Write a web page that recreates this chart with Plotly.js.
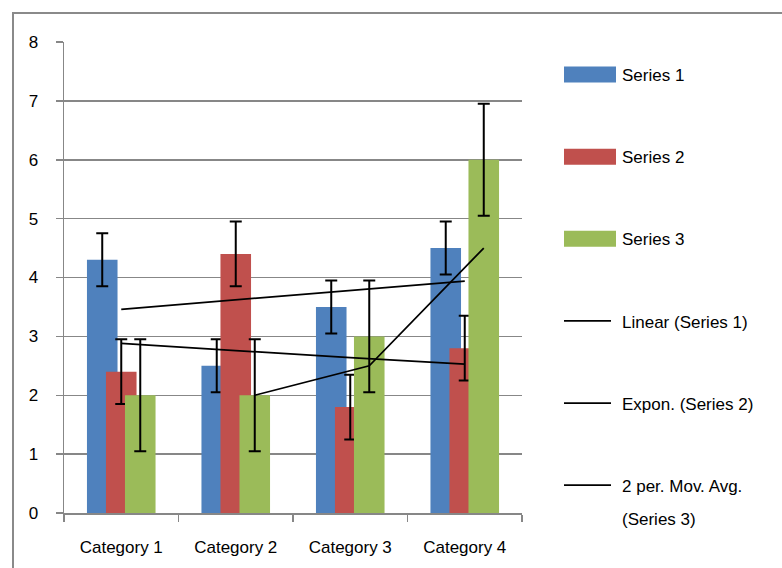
<!DOCTYPE html>
<html><head><meta charset="utf-8">
<script src="https://cdn.plot.ly/plotly-3.0.1.min.js"></script>
<style>
html,body{margin:0;padding:0;background:#fff;overflow:hidden}
#wrap{position:relative;width:782px;height:568px}
#chart{position:absolute;left:0;top:0;width:782px;height:568px}
#frame{position:absolute;left:12px;top:12px;width:820px;height:620px;border-top:2px solid #8a8a8a;border-left:2px solid #8a8a8a;pointer-events:none}
</style></head><body>
<div id="wrap"><div id="chart"></div><div id="frame"></div></div>
<script>
// ---- data ----
const categories = ['Category 1', 'Category 2', 'Category 3', 'Category 4'];
const series1 = [4.3, 2.5, 3.5, 4.5];
const series2 = [2.4, 4.4, 1.8, 2.8];
const series3 = [2, 2, 3, 6];
const errSeries1 = 0.45;
const errSeries2 = 0.55;
const errSeries3 = 0.95;
const linearSeries1 = [3.46, 3.94];            // trend at Category 1 and Category 4
const exponSeries2 = [2.88, 2.76, 2.64, 2.53]; // trend at each category
const movAvgSeries3 = [2.0, 2.5, 4.5];         // 2-period moving average, Categories 2..4
const seriesNames = ['Series 1', 'Series 2', 'Series 3'];
const trendNames = ['Linear (Series 1)', 'Expon. (Series 2)', '2 per. Mov. Avg.', '(Series 3)'];

// ---- styling / layout ----
const colors = ['#4F81BD', '#C0504D', '#9BBB59'];
const grey = '#878787';
const FONT = 'Liberation Sans, Arial, sans-serif';
const catIdx = categories.map((c, i) => i + 1);
const barWidth = 0.267;
const seriesShift = [-0.166, 0, 0.166];

function barTrace(vals, k, err) {
  return {
    type: 'bar', name: seriesNames[k], x: catIdx, y: vals,
    width: barWidth, offset: seriesShift[k] - barWidth / 2,
    marker: {color: colors[k], line: {width: 0}},
    error_y: {type: 'constant', value: err, color: '#000', thickness: 2, width: 6},
    legendgroup: 'g' + k, hoverinfo: 'x+y'
  };
}

const traces = [
  barTrace(series1, 0, errSeries1),
  barTrace(series2, 1, errSeries2),
  barTrace(series3, 2, errSeries3),
  {type: 'scatter', mode: 'lines', name: trendNames[0],
   x: [catIdx[0], catIdx[catIdx.length - 1]], y: linearSeries1,
   line: {color: '#000', width: 1.75}, legendgroup: 'g3'},
  {type: 'scatter', mode: 'lines', name: trendNames[1],
   x: catIdx, y: exponSeries2, line: {color: '#000', width: 1.75, shape: 'spline'}, legendgroup: 'g4'},
  {type: 'scatter', mode: 'lines', name: trendNames[2],
   x: catIdx.slice(1).map(v => v + seriesShift[2]), y: movAvgSeries3,
   line: {color: '#000', width: 1.75}, legendgroup: 'g5'},
  {type: 'scatter', mode: 'lines', name: trendNames[3], x: [null], y: [null],
   line: {color: 'rgba(0,0,0,0)', width: 0}, legend: 'legend2', hoverinfo: 'skip'}
];

const legendCommon = {
  font: {family: FONT, size: 17, color: '#000'},
  bgcolor: 'rgba(0,0,0,0)', borderwidth: 0,
  xanchor: 'left', yanchor: 'top', x: 1.0808,
  itemwidth: 53, valign: 'middle', itemclick: false, itemdoubleclick: false
};

const layout = {
  width: 782, height: 568,
  margin: {l: 64, r: 260, t: 42, b: 55, autoexpand: false},
  paper_bgcolor: '#fff', plot_bgcolor: '#fff',
  font: {family: FONT, size: 17, color: '#000'},
  barmode: 'overlay',
  showlegend: true,
  legend: Object.assign({}, legendCommon, {y: 0.968, tracegroupgap: 57, traceorder: 'grouped'}),
  legend2: Object.assign({}, legendCommon, {y: 0.026}),
  xaxis: {
    type: 'linear', range: [0.5, 4.5],
    tickmode: 'array', tickvals: catIdx, ticktext: categories,
    ticks: '', ticklabelstandoff: 18,
    minor: {tickmode: 'array', tickvals: [0.5, 1.5, 2.5, 3.5, 4.5], ticks: 'outside', ticklen: 7, tickwidth: 1.5, tickcolor: grey, showgrid: false},
    showline: true, linecolor: grey, linewidth: 1.5,
    showgrid: false, zeroline: false, fixedrange: true,
    tickfont: {family: FONT, size: 17, color: '#000'}
  },
  yaxis: {
    range: [0, 8], tickmode: 'linear', tick0: 0, dtick: 1,
    ticks: 'outside', ticklen: 7, tickwidth: 1.5, tickcolor: grey,
    showgrid: true, gridcolor: grey, gridwidth: 1.5,
    showline: true, linecolor: grey, linewidth: 1.5,
    zeroline: false, fixedrange: true, ticklabelstandoff: 14,
    tickfont: {family: FONT, size: 17, color: '#000'}
  }
};

Plotly.newPlot('chart', traces, layout, {displayModeBar: false, staticPlot: true}).then(function (gd) {
  // widen legend swatches to match the reference look
  gd.querySelectorAll('.legend .traces').forEach(function (tr) {
    tr.querySelectorAll('.legendpoints path').forEach(function (p) {
      p.setAttribute('d', 'M5,-8h52v16h-52z');
      p.removeAttribute('transform');
    });
    tr.querySelectorAll('.legendlines path').forEach(function (p) {
      p.setAttribute('d', 'M5,0h47');
    });
  });
});
</script>
</body></html>
